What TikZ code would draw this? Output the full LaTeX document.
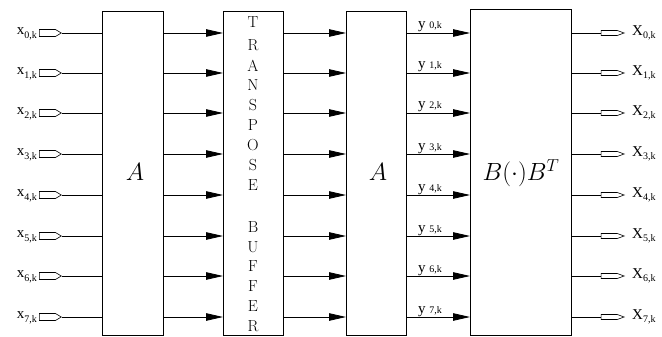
\documentclass[tikz,border=0pt]{standalone}
\usepackage{fontspec}
\newfontfamily\tms{Liberation Serif}
\usetikzlibrary{arrows.meta,shapes.arrows}
\begin{document}
\begin{tikzpicture}[x=1pt,y=-1pt,
  blk/.style={draw,line width=0.8pt,minimum width=#1,inner sep=0pt},
  inarr/.style={single arrow,single arrow head extend=0pt,single arrow tip angle=62,
    draw,line width=0.6pt,minimum height=22pt,minimum width=7pt,inner sep=0pt},
  outarr/.style={single arrow,single arrow head extend=0pt,single arrow tip angle=40,
    draw,line width=0.6pt,minimum height=23pt,minimum width=5pt,inner sep=0pt},
  wire/.style={line width=0.8pt},
  fw/.style={line width=0.8pt,-{Triangle[length=17pt,width=7.5pt]}},
  lab/.style={font=\tms\fontsize{15}{15}\selectfont,inner sep=0pt},
  tl/.style={font=\fontsize{16}{16}\selectfont,inner sep=0pt}
]
\useasboundingbox (0,0) rectangle (662,337);
% boxes
\node[blk=61pt,minimum height=324pt,anchor=north west] (A1) at (102,11) {};
\node[blk=60pt,minimum height=324pt,anchor=north west] (T) at (223,11) {};
\node[blk=60pt,minimum height=324pt,anchor=north west] (A2) at (346,11) {};
\node[blk=101pt,minimum height=326pt,anchor=north west] (B) at (470,9) {};
\node[font=\fontsize{26}{26}\selectfont] at (135,172) {$A$};
\node[font=\fontsize{26}{26}\selectfont] at (378,172) {$A$};
\node[font=\fontsize{25}{25}\selectfont] at (521,173) {$B(\cdot)B^{T}$};
% transpose buffer letters
\foreach \l/\yy in {T/22,R/45,A/66,N/85,S/105,P/125,O/145,S/165,E/185,B/227,U/247,F/266,F/286,E/306,R/326}
  \node[tl] at (253,\yy) {\l};
% rows
\foreach \i/\yy in {0/33,1/73,2/113,3/154,4/195,5/236,6/276,7/317}{
  \node[inarr,anchor=west] (in\i) at (39,\yy) {};
  \node[lab,anchor=east] at (37,\yy+1) {x\raisebox{-4pt}{\fontsize{10}{10}\selectfont\i,k}};
  \draw[wire] (in\i.east) -- (A1.west |- in\i.east);
  \draw[fw] (A1.east |- in\i.east) -- (T.west |- in\i.east);
  \draw[fw] (T.east |- in\i.east) -- (A2.west |- in\i.east);
  \draw[fw] (A2.east |- in\i.east) -- (B.west |- in\i.east);
  \node[lab,anchor=base west] at (418,\yy-4) {y {\fontsize{10}{10}\selectfont\i,k}};
  \node[outarr,anchor=east] (out\i) at (625,\yy) {};
  \draw[wire] (B.east |- in\i.east) -- (out\i.west);
  \node[lab,anchor=west] at (632,\yy) {X\raisebox{-3.5pt}{\fontsize{10}{10}\selectfont\i,k}};
}
\end{tikzpicture}
\end{document}
